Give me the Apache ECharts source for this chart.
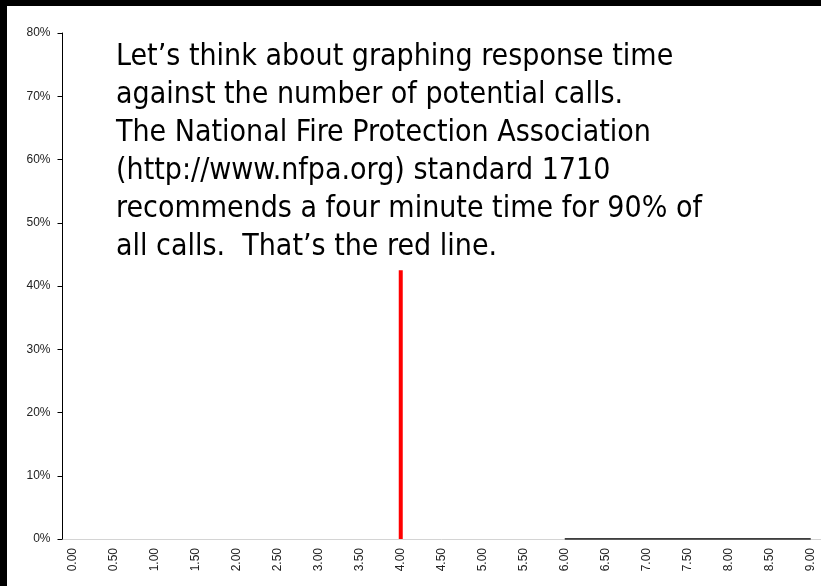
<!DOCTYPE html>
<html>
<head>
<meta charset="utf-8">
<script src="https://cdn.jsdelivr.net/npm/echarts@6/dist/echarts.min.js"></script>
<style>
  html, body { margin: 0; padding: 0; background: #000; }
  #chart { position: absolute; left: 7px; top: 6px; width: 814px; height: 580px; background: #fff; }
</style>
</head>
<body>
<div id="chart"></div>
<script>
// response time categories (minutes), one every quarter minute
const minutes = [
  '0.00', '0.25', '0.50', '0.75', '1.00', '1.25', '1.50', '1.75', '2.00',
  '2.25', '2.50', '2.75', '3.00', '3.25', '3.50', '3.75', '4.00', '4.25',
  '4.50', '4.75', '5.00', '5.25', '5.50', '5.75', '6.00', '6.25', '6.50',
  '6.75', '7.00', '7.25', '7.50', '7.75', '8.00', '8.25', '8.50', '8.75', '9.00'
];

// NFPA 1710 four minute standard, drawn as the red line
const standardMinute = '4.00';
const standardHeight = 0.425;

// the part of the curve visible on the floor of the chart
const floorFrom = '6.00';
const floorValue = 0;

const yMax = 0.8;
const yStep = 0.1;

const note = [
  'Let\u2019s think about graphing response time',
  'against the number of potential calls.',
  'The National Fire Protection Association',
  '(http://www.nfpa.org) standard 1710',
  'recommends a four minute time for 90% of',
  'all calls.  That\u2019s the red line.'
];

const redData = minutes.map(m => (m === standardMinute ? standardHeight : null));
const floorStart = minutes.indexOf(floorFrom);
const floorData = minutes.map((m, i) => (i >= floorStart ? floorValue : null));

const chart = echarts.init(document.getElementById('chart'));

const option = {
  animation: false,
  backgroundColor: '#fff',
  title: {
    text: note.join('\n'),
    left: 109,
    top: 32,
    padding: 0,
    textStyle: {
      fontFamily: "'DejaVu Sans Condensed', 'DejaVu Sans', sans-serif",
      fontSize: 30,
      fontWeight: 'normal',
      lineHeight: 38,
      color: '#000'
    }
  },
  grid: { left: 55.5, right: 0, top: 27, bottom: 47 },
  xAxis: {
    type: 'category',
    data: minutes,
    boundaryGap: true,
    axisLine: { lineStyle: { color: '#d4d4d4', width: 1 } },
    axisTick: { interval: 0, length: 4, lineStyle: { color: '#000' } },
    axisLabel: {
      interval: 1,
      rotate: 90,
      margin: 9,
      fontFamily: "'Liberation Sans', Arial, sans-serif",
      fontSize: 12,
      color: '#222'
    },
    splitLine: { show: false }
  },
  yAxis: {
    type: 'value',
    min: 0,
    max: yMax,
    interval: yStep,
    axisLine: { show: true, lineStyle: { color: '#000', width: 1 } },
    axisTick: { show: true, length: 5, lineStyle: { color: '#000' } },
    axisLabel: {
      margin: 12,
      fontFamily: "'Liberation Sans', Arial, sans-serif",
      fontSize: 12,
      color: '#222',
      formatter: v => Math.round(v * 100) + '%'
    },
    splitLine: { show: false }
  },
  series: [
    {
      type: 'bar',
      data: redData,
      barWidth: 4,
      itemStyle: { color: '#ff0000' }
    },
    {
      type: 'line',
      data: floorData,
      showSymbol: false,
      lineStyle: { color: '#000', width: 1.5 },
      z: 3
    }
  ]
};

chart.setOption(option);
</script>
</body>
</html>
